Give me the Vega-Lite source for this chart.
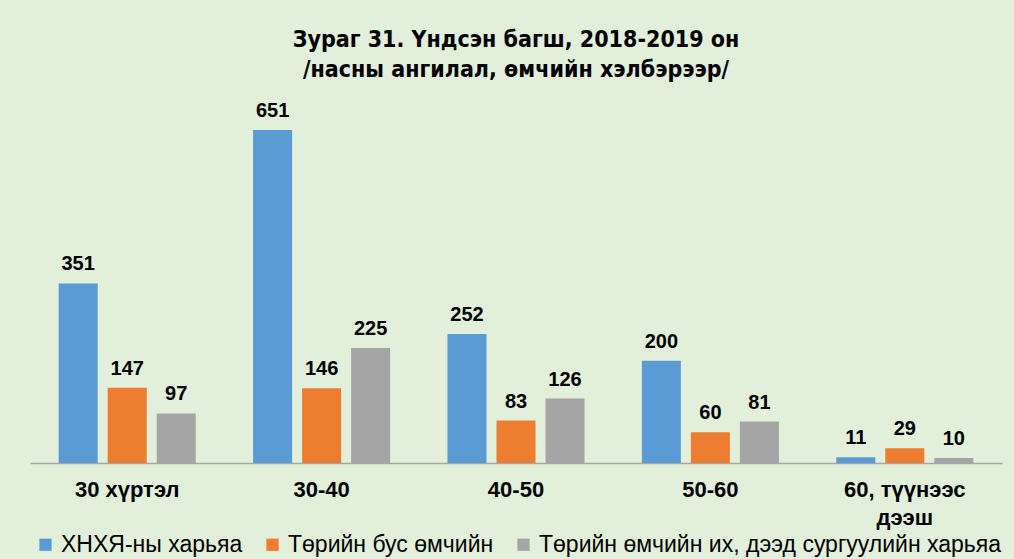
{
  "$schema": "https://vega.github.io/schema/vega-lite/v6.json",
  "width": 972,
  "height": 358,
  "autosize": {"type": "none"},
  "padding": {"left": 30, "top": 105, "right": 12, "bottom": 96},
  "background": "#E2EFDA",
  "title": {
    "text": ["Зураг 31. Үндсэн багш, 2018-2019 он", "/насны ангилал, өмчийн хэлбэрээр/"],
    "font": "DejaVu Sans Condensed, Liberation Sans, sans-serif",
    "fontSize": 23,
    "fontWeight": "bold",
    "color": "#000000",
    "anchor": "middle",
    "lineHeight": 30,
    "offset": 19
  },
  "data": {
    "values": [
      {"age": "30 хүртэл", "type": "ХНХЯ-ны харьяа", "value": 351},
      {"age": "30 хүртэл", "type": "Төрийн бус өмчийн", "value": 147},
      {"age": "30 хүртэл", "type": "Төрийн өмчийн их, дээд сургуулийн харьяа", "value": 97},
      {"age": "30-40", "type": "ХНХЯ-ны харьяа", "value": 651},
      {"age": "30-40", "type": "Төрийн бус өмчийн", "value": 146},
      {"age": "30-40", "type": "Төрийн өмчийн их, дээд сургуулийн харьяа", "value": 225},
      {"age": "40-50", "type": "ХНХЯ-ны харьяа", "value": 252},
      {"age": "40-50", "type": "Төрийн бус өмчийн", "value": 83},
      {"age": "40-50", "type": "Төрийн өмчийн их, дээд сургуулийн харьяа", "value": 126},
      {"age": "50-60", "type": "ХНХЯ-ны харьяа", "value": 200},
      {"age": "50-60", "type": "Төрийн бус өмчийн", "value": 60},
      {"age": "50-60", "type": "Төрийн өмчийн их, дээд сургуулийн харьяа", "value": 81},
      {"age": "60, түүнээс дээш", "type": "ХНХЯ-ны харьяа", "value": 11},
      {"age": "60, түүнээс дээш", "type": "Төрийн бус өмчийн", "value": 29},
      {"age": "60, түүнээс дээш", "type": "Төрийн өмчийн их, дээд сургуулийн харьяа", "value": 10}
    ]
  },
  "encoding": {
    "x": {
      "field": "age",
      "type": "nominal",
      "sort": null,
      "title": null,
      "scale": {"paddingInner": 0.295, "paddingOuter": 0.1475},
      "axis": {
        "labelAngle": 0,
        "labelFont": "Liberation Sans",
        "labelFontSize": 22,
        "labelFontWeight": "bold",
        "labelColor": "#000000",
        "labelPadding": 16,
        "labelLineHeight": 28,
        "labelExpr": "datum.label == '60, түүнээс дээш' ? ['60, түүнээс', 'дээш'] : datum.label",
        "ticks": false,
        "domainColor": "#A6A6A6",
        "domainWidth": 1.5,
        "grid": false
      }
    },
    "xOffset": {
      "field": "type",
      "type": "nominal",
      "sort": null,
      "scale": {"paddingInner": 0.204, "paddingOuter": 0}
    },
    "y": {
      "field": "value",
      "type": "quantitative",
      "scale": {"domain": [0, 700]},
      "axis": null
    }
  },
  "layer": [
    {
      "mark": {"type": "bar"},
      "encoding": {
        "color": {
          "field": "type",
          "type": "nominal",
          "sort": null,
          "title": null,
          "scale": {
            "domain": ["ХНХЯ-ны харьяа", "Төрийн бус өмчийн", "Төрийн өмчийн их, дээд сургуулийн харьяа"],
            "range": ["#5B9BD5", "#ED7D31", "#A5A5A5"]
          },
          "legend": {
            "orient": "none",
            "direction": "horizontal",
            "legendX": 4,
            "legendY": 428,
            "symbolType": "square",
            "symbolSize": 150,
            "symbolStrokeWidth": 0,
            "labelFont": "Liberation Sans",
            "labelFontSize": 23,
            "labelColor": "#000000",
            "labelOffset": 4,
            "columnPadding": 18,
            "labelLimit": 600
          }
        }
      }
    },
    {
      "mark": {
        "type": "text",
        "baseline": "alphabetic",
        "dy": -13,
        "font": "Liberation Sans",
        "fontSize": 20,
        "fontWeight": "bold",
        "color": "#000000"
      },
      "encoding": {
        "text": {"field": "value", "type": "quantitative"}
      }
    }
  ],
  "config": {
    "view": {"stroke": null}
  }
}
